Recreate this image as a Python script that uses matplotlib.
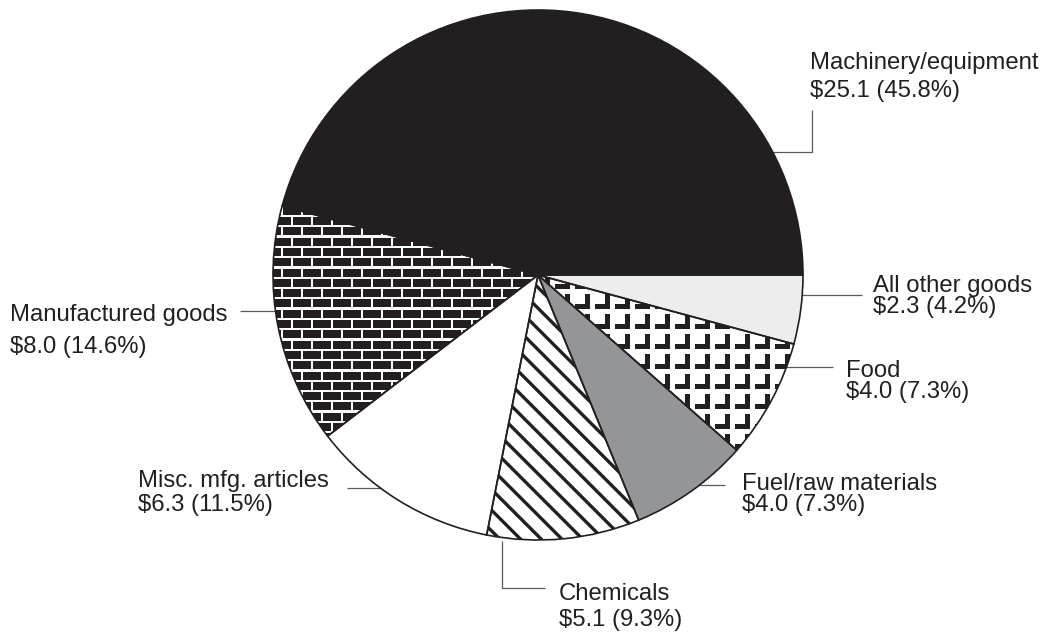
"""Pie chart of export composition, with textured wedges and leader-line labels."""

import matplotlib

matplotlib.use("Agg")

import numpy as np
import matplotlib.pyplot as plt
from matplotlib.collections import LineCollection, PatchCollection
from matplotlib.patches import Polygon, Rectangle, Wedge

plt.rcParams["font.family"] = ["Liberation Sans", "DejaVu Sans"]

# Values in billions of dollars, in drawing order (counterclockwise from 3 o'clock)
categories = [
    "Machinery/equipment",
    "Manufactured goods",
    "Misc. mfg. articles",
    "Chemicals",
    "Fuel/raw materials",
    "Food",
    "All other goods",
]
values = [25.1, 8.0, 6.3, 5.1, 4.0, 4.0, 2.3]

INK = "#231f20"
LEADER = "#5a5a5a"
FILLS = ["#231f20", "#ffffff", "#ffffff", "#ffffff", "#939598", "#ffffff", "#ededee"]

CENTER = (538, 275)
RADIUS = 265

# Label anchors in pixels: x, first baseline, second baseline
LABEL_POS = {
    "Machinery/equipment": (810, 69, 97),
    "Manufactured goods": (10, 321, 353),
    "Misc. mfg. articles": (138, 487, 511),
    "Chemicals": (559, 600, 626),
    "Fuel/raw materials": (742, 490, 511),
    "Food": (846, 377, 398),
    "All other goods": (873, 292, 313),
}

# Leader polylines in pixels
LEADERS = {
    "Machinery/equipment": [(771, 152), (812, 152), (812, 110)],
    "Manufactured goods": [(240, 311), (276, 311)],
    "Misc. mfg. articles": [(347, 488), (381, 488)],
    "Chemicals": [(502, 541), (502, 588), (545, 588)],
    "Fuel/raw materials": [(699, 485), (725, 485)],
    "Food": [(781, 367), (833, 367)],
    "All other goods": [(800, 295), (862, 295)],
}


def brick_pattern(x0, x1, y0, y1, pitch_x=20.0, pitch_y=10.3, brick_w=18.0, brick_h=8.0):
    bricks = []
    row = 0
    y = y0
    while y < y1:
        shift = (pitch_x / 2) * (row % 2)
        x = x0 - pitch_x + shift
        while x < x1:
            bricks.append(Rectangle((x, y), brick_w, brick_h))
            x += pitch_x
        y += pitch_y
        row += 1
    return bricks


def corner_pattern(x0, x1, y0, y1, pitch=20.0, size=15.0, bar=5.0):
    shapes = []
    for y in np.arange(y0, y1, pitch):
        for x in np.arange(x0, x1, pitch):
            pts = [
                (x, y + size - bar), (x + size - bar, y + size - bar),
                (x + size - bar, y), (x + size, y),
                (x + size, y + size), (x, y + size),
            ]
            shapes.append(Polygon(pts, closed=True))
    return shapes


def diagonal_lines(x0, x1, y0, y1, spacing=20.7):
    span = (y1 - y0)
    segments = []
    for start in np.arange(x0 - span, x1, spacing):
        segments.append([(start, y0), (start + span, y1)])
    return segments


fig = plt.figure(figsize=(10.43, 6.33), dpi=100)
ax = fig.add_axes([0, 0, 1, 1])

wedges, _ = ax.pie(
    values,
    colors=FILLS,
    startangle=0,
    counterclock=False,
    center=CENTER,
    radius=RADIUS,
    wedgeprops=dict(edgecolor="none", linewidth=0),
    frame=False,
)
for w in wedges:
    w.set_zorder(1)

cx, cy = CENTER
box = (cx - RADIUS, cx + RADIUS, cy - RADIUS, cy + RADIUS)

# Manufactured goods: black bricks on white mortar
bricks = PatchCollection(brick_pattern(box[0], box[1], box[2] + 1, box[3]),
                         facecolor=INK, edgecolor="none", zorder=2)
bricks.set_clip_path(wedges[1])
ax.add_collection(bricks)

# Chemicals: wide diagonal hatching
hatch = LineCollection(diagonal_lines(box[0], box[1], box[2], box[3]),
                       colors=INK, linewidths=2.4, zorder=2)
hatch.set_clip_path(wedges[3])
ax.add_collection(hatch)

# Food: bold corner marks on white
corners = PatchCollection(corner_pattern(box[0] + 2, box[1], box[2] + 4, box[3]),
                          facecolor=INK, edgecolor="none", zorder=2)
corners.set_clip_path(wedges[5])
ax.add_collection(corners)

# Outlines on top of the textures
for w in wedges:
    ax.add_patch(Wedge(w.center, w.r, w.theta1, w.theta2, fill=False,
                       edgecolor=INK, linewidth=1.2, zorder=4))

total = sum(values)
for name, value in zip(categories, values):
    x, b1, b2 = LABEL_POS[name]
    share = value / total * 100
    ax.text(x, b1, name, ha="left", va="baseline", fontsize=17.2, color=INK)
    ax.text(x, b2, f"${value:.1f} ({share:.1f}%)", ha="left", va="baseline",
            fontsize=17.2, color=INK)
    pts = np.array(LEADERS[name])
    ax.plot(pts[:, 0], pts[:, 1], color=LEADER, linewidth=0.9, zorder=0,
            solid_capstyle="butt")

ax.set_xlim(0, 1043)
ax.set_ylim(633, 0)
ax.set_aspect("equal")
ax.axis("off")

fig.savefig("out.png", dpi=100, facecolor="white")
